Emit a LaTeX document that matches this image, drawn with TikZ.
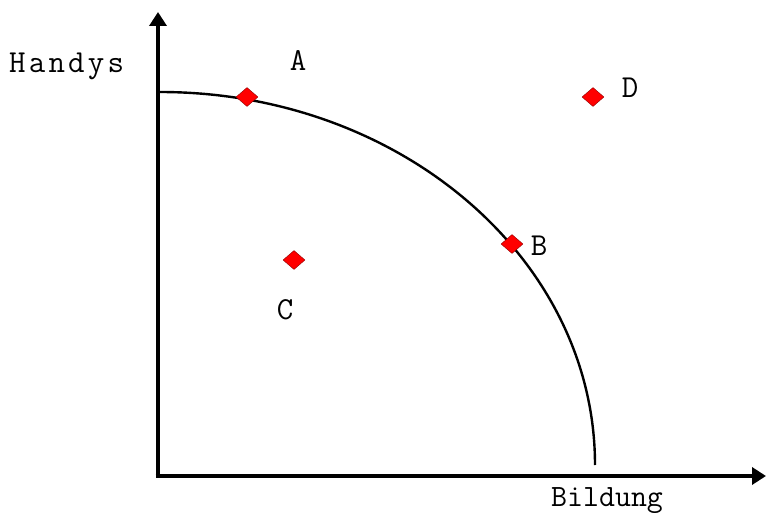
\documentclass[tikz,border=0pt]{standalone}
\usepackage{fontspec}
\setmainfont{Latin Modern Mono}
\usetikzlibrary{shapes.geometric,arrows.meta}
\begin{document}
\begin{tikzpicture}[x=1pt,y=-1pt,
  axis/.style={line width=4.8pt,-{Triangle[width=17pt,length=14pt]}},
  ppf/.style={line width=2.4pt},
  pt/.style={diamond,fill=red,draw=red!55!black,line width=0.4pt,inner sep=0pt,minimum width=22pt,minimum height=19pt},
  lab/.style={font=\fontsize{32}{34}\selectfont,inner sep=0pt}]
\useasboundingbox (0,0) rectangle (766,513);
\coordinate (O) at (158,476);
\coordinate (Ytop) at (158,12);
\coordinate (Xend) at (766,476);
\coordinate (Cs) at (160,92);
\draw[axis] (O) -- (Ytop);
\draw[axis] ([xshift=-2.4pt]O) -- (Xend);
\draw[ppf] (Cs) arc[start angle=-90,end angle=0,x radius=435,y radius=373];
\node[pt] (A) at (247,97) {};
\node[pt] (B) at (512,244) {};
\node[pt] (C) at (294,260) {};
\node[pt] (D) at (593,97) {};
\node[lab] (lA) at (298,61) {A};
\node[lab] (lB) at (539,246) {B};
\node[lab] (lC) at (285,310) {C};
\node[lab] (lD) at (630,88) {D};
\node[lab,anchor=west] (lH) at (9,66) {\addfontfeature{LetterSpace=10}Handys};
\node[lab,anchor=north west,font=\fontsize{31}{33}\selectfont] (lX) at (551,487) {Bildung};
\end{tikzpicture}
\end{document}
